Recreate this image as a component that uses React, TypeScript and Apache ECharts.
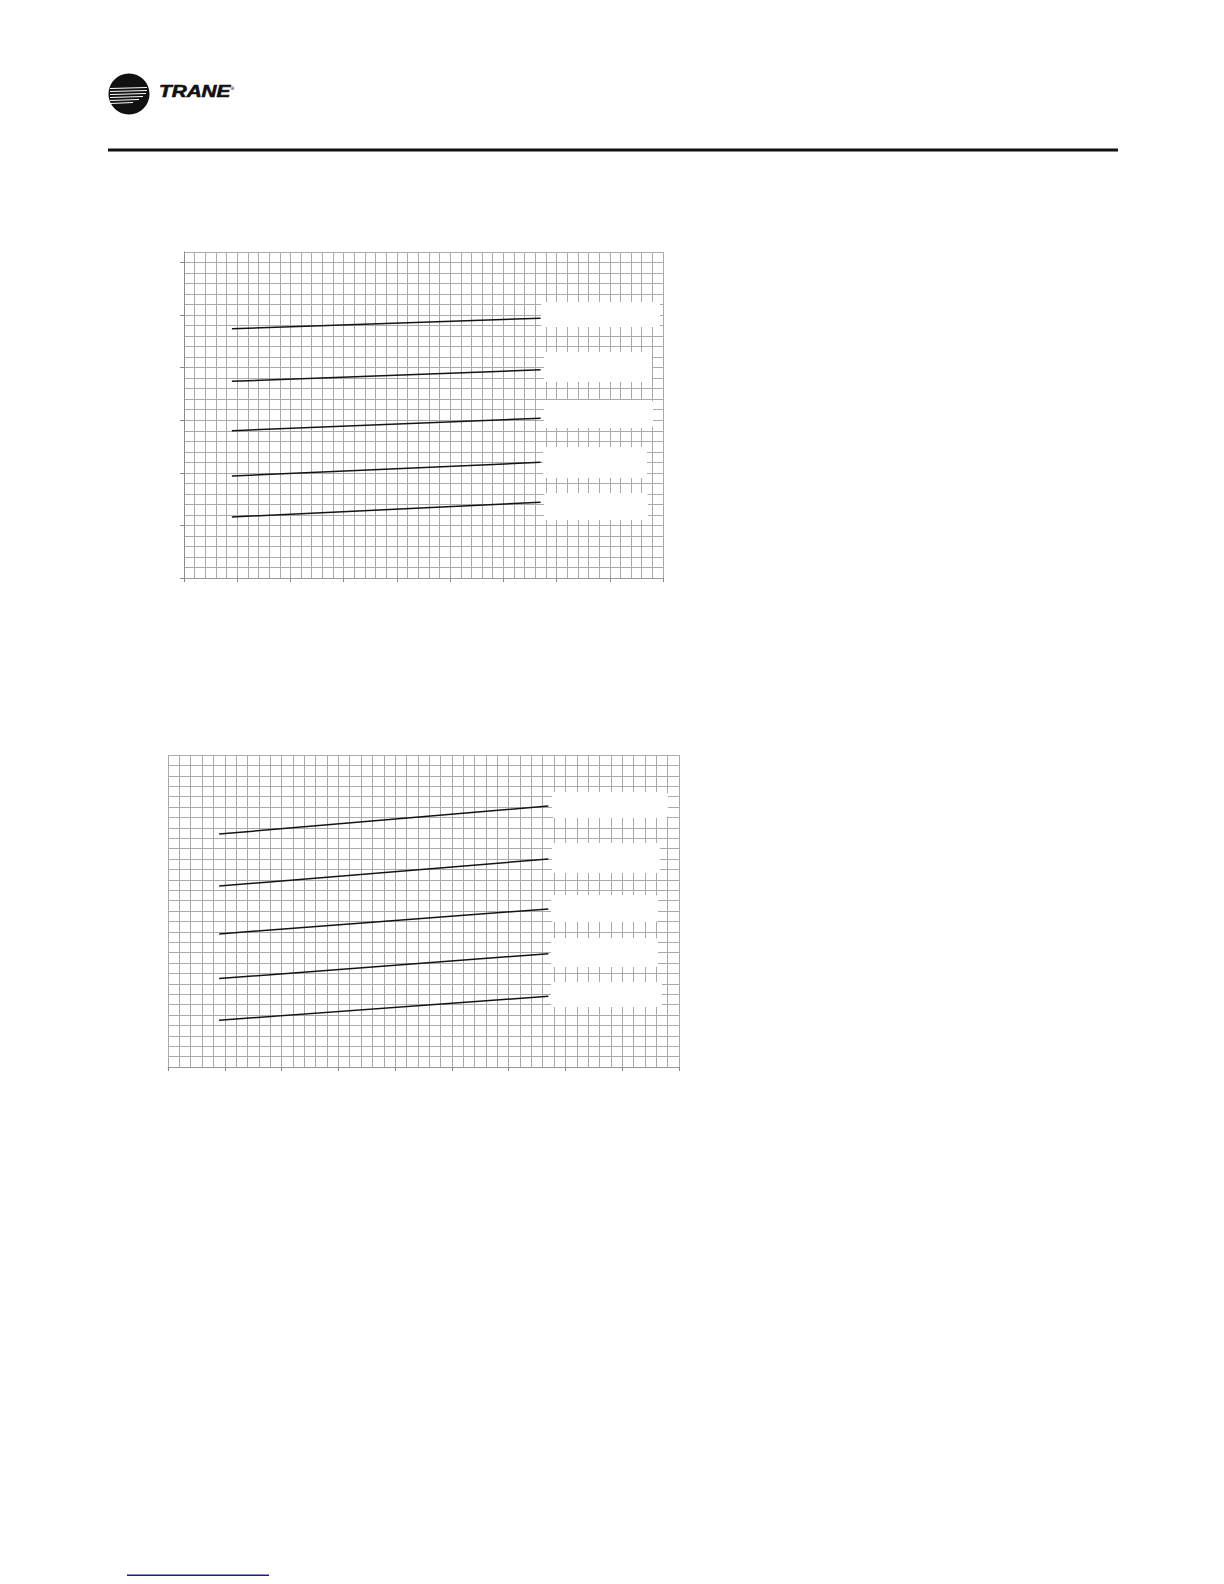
import React, { useEffect, useRef } from "react";
import * as echarts from "echarts";

// ---- data ----
const X_RANGE = [0, 90];
const X_MAJOR_TICKS = [0, 10, 20, 30, 40, 50, 60, 70, 80, 90];
const Y1_RANGE = [0, 31];
const Y1_MAJOR_TICKS = [0, 5, 10, 15, 20, 25, 30];
const Y2_RANGE = [0, 30];

const LINE_X = [9, 67];

const chart1Lines = [
  [23.7, 24.7],
  [18.7, 19.8],
  [14.0, 15.2],
  [9.7, 11.0],
  [5.8, 7.2],
];

const chart2Lines = [
  [22.4, 25.1],
  [17.4, 20.0],
  [12.8, 15.2],
  [8.5, 10.9],
  [4.5, 6.8],
];

// white label placeholder boxes (page pixels)
const chart1Boxes = [
  [541, 302, 119, 25],
  [544, 352, 108, 30],
  [544, 400, 109, 28],
  [543, 447, 104, 31],
  [544, 493, 104, 27],
];
const chart2Boxes = [
  [552, 792, 116, 26],
  [552, 843, 108, 30],
  [551, 895, 107, 27],
  [551, 938, 107, 29],
  [551, 982, 111, 25],
];

const GRID_COLOR = "#aaaaaa";

const gridAxis = (dim: "x" | "y", gridIndex: number, range: number[], interval: number) => ({
  type: "value",
  gridIndex,
  min: range[0],
  max: range[1],
  interval,
  position: dim === "x" ? "bottom" : "left",
  offset: 0,
  axisLine: { show: false, onZero: false },
  axisTick: { show: false },
  axisLabel: { show: false },
  splitLine: { show: true, lineStyle: { color: GRID_COLOR, width: 1 } },
});

const tickAxis = (
  dim: "x" | "y",
  gridIndex: number,
  range: number[],
  ticks: number[],
  lineColor: string
) => ({
  type: "value",
  gridIndex,
  min: range[0],
  max: range[1],
  position: dim === "x" ? "bottom" : "left",
  offset: 0,
  axisLine: { show: true, onZero: false, lineStyle: { color: lineColor, width: 1 } },
  axisTick: { show: true, customValues: ticks, length: 4, lineStyle: { color: "#888888" } },
  axisLabel: { show: false },
  splitLine: { show: false },
});

function App() {
  const ref = useRef<HTMLDivElement>(null);

  useEffect(() => {
    if (!ref.current) return;
    const chart = echarts.init(ref.current, null, { renderer: "svg" });

    const makeSeries = (lines: number[][], xIdx: number, yIdx: number, tag: string) =>
      lines.map((vals, i) => ({
        type: "line",
        name: `${tag}_${i + 1}`,
        xAxisIndex: xIdx,
        yAxisIndex: yIdx,
        data: vals.map((v, j) => [LINE_X[j], v]),
        showSymbol: false,
        symbol: "none",
        lineStyle: { color: "#141414", width: 1.5 },
        z: 5,
      }));

    const boxes = [...chart1Boxes, ...chart2Boxes].map((b) => ({
      type: "rect",
      shape: { x: b[0], y: b[1], width: b[2], height: b[3], r: 3 },
      style: { fill: "#ffffff" },
      z: 100,
    }));

    const streaks = [
      [88, 147],
      [91, 147],
      [94, 146],
      [97, 143],
      [100, 139],
      [103, 133],
    ].map((s) => ({
      type: "line",
      shape: { x1: 110, y1: s[0] + 0.5, x2: s[1], y2: s[0] - 0.5 },
      style: { stroke: "#ffffff", lineWidth: 1.1 },
      z: 101,
    }));

    const option = {
      animation: false,
      backgroundColor: "#ffffff",
      grid: [
        { left: 184, top: 252, width: 479, height: 326, containLabel: false, outerBoundsMode: "none" },
        { left: 168, top: 755, width: 511, height: 312, containLabel: false, outerBoundsMode: "none" },
      ],
      xAxis: [
        gridAxis("x", 0, X_RANGE, 2),
        tickAxis("x", 0, X_RANGE, X_MAJOR_TICKS, "#999999"),
        gridAxis("x", 1, X_RANGE, 2),
        tickAxis("x", 1, X_RANGE, X_MAJOR_TICKS, "#999999"),
      ],
      yAxis: [
        gridAxis("y", 0, Y1_RANGE, 1),
        tickAxis("y", 0, Y1_RANGE, Y1_MAJOR_TICKS, "#8c8c8c"),
        gridAxis("y", 1, Y2_RANGE, 1),
      ],
      series: [...makeSeries(chart1Lines, 0, 0, "c1"), ...makeSeries(chart2Lines, 2, 2, "c2")],
      graphic: [
        // header logo
        { type: "circle", shape: { cx: 129, cy: 94, r: 20.5 }, style: { fill: "#111111" }, z: 100 },
        ...streaks,
        {
          type: "text",
          x: 159,
          y: 100,
          scaleX: 1.22,
          style: {
            text: "TRANE",
            fontFamily: "Liberation Sans, Arial, sans-serif",
            fontSize: 17,
            fontWeight: 900,
            fontStyle: "italic",
            fill: "#111111",
            stroke: "#111111",
            lineWidth: 0.6,
            verticalAlign: "bottom",
          },
          z: 100,
        },
        {
          type: "text",
          x: 230,
          y: 85,
          style: { text: "®", fontSize: 5, fill: "#111111", fontFamily: "DejaVu Sans, sans-serif" },
          z: 100,
        },
        // header rule
        { type: "rect", shape: { x: 108, y: 148.5, width: 1010, height: 3 }, style: { fill: "#111111" }, z: 100 },
        // label placeholder boxes
        ...boxes,
        // footer link underline
        { type: "rect", shape: { x: 127, y: 1574.5, width: 142, height: 1.5 }, style: { fill: "#1c1c8c" }, z: 100 },
      ],
    };

    chart.setOption(option as any);
    return () => {
      chart.dispose();
    };
  }, []);

  return (
    <div
      ref={ref}
      style={{ position: "absolute", left: 0, top: 0, width: 1224, height: 1584, background: "#fff" }}
    />
  );
}

export default App;
